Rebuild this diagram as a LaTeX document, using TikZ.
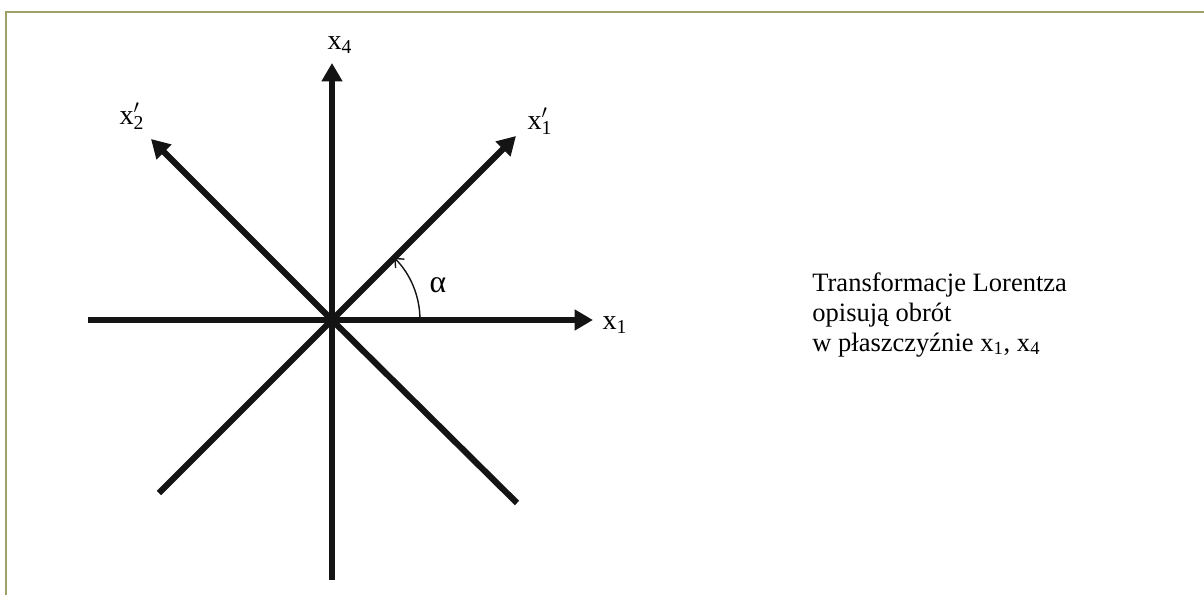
\documentclass[tikz,border=0pt]{standalone}
\usepackage{fontspec}
\setmainfont{Liberation Serif}
\usepackage{tikz}
\usepackage{xcolor}
\usetikzlibrary{arrows.meta, positioning}

\definecolor{frameolive}{RGB}{160,160,104}
\definecolor{axisblack}{RGB}{20,20,20}

\tikzset{
  axisarrow/.style={line width=3.5pt, draw=axisblack, -{Triangle[length=10.5pt, width=11.4pt]}},
  anglearc/.style={line width=0.8pt, draw=axisblack, -{Straight Barb[length=4pt, width=7pt]}},
  axislabel/.style={inner sep=0pt, font=\fontsize{16}{19}\selectfont},
}

\newcommand{\primed}[1]{x\rlap{$'$}\textsubscript{#1}}

\begin{document}
\begin{tikzpicture}[x=0.02cm, y=0.02cm]

\useasboundingbox (-332,-275) rectangle (872,320);
\draw[frameolive, line width=0.9pt] (-326,-275) -- (-326,308) -- (872,308);

\coordinate (O) at (0,0);
\coordinate (x4bot) at (0,-260);
\coordinate (x4top) at (0,257);
\coordinate (x1left) at (-244,0);
\coordinate (x1right) at (261,0);
\coordinate (p1low) at (-173,-173);
\coordinate (p1top) at (184,184);
\coordinate (p2low) at (185,-183);
\coordinate (p2top) at (-181,181);

\draw[axisarrow] (x1left) -- (x1right);
\draw[axisarrow] (x4bot) -- (x4top);
\draw[axisarrow] (p1low) -- (O) -- (p1top);
\draw[axisarrow] (p2low) -- (O) -- (p2top);

\coordinate (arcstart) at (88,0);
\draw[anglearc] (arcstart) arc[start angle=0, end angle=45, radius=88];
\node[axislabel, font=\fontsize{18}{20}\selectfont] (alpha) at (106,35) {α};

\node[axislabel] (x4lbl) at (8,275) {x\textsubscript{4}};
\node[axislabel] (x1lbl) at (283,-5) {x\textsubscript{1}};
\node[axislabel] (p1lbl) at (208,199) {\primed{1}};
\node[axislabel] (p2lbl) at (-200,204) {\primed{2}};

\node[anchor=north west, inner sep=0pt, align=left, font=\fontsize{15.1}{17.1}\selectfont] (caption) at (480,48)
{Transformacje Lorentza\\opisują obrót\\w płaszczyźnie x\textsubscript{1}, x\textsubscript{4}};

\end{tikzpicture}
\end{document}
